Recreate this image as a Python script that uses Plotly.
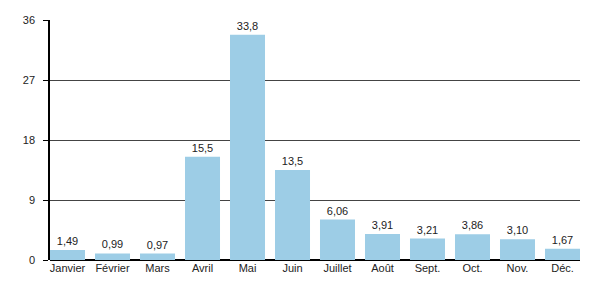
import plotly.graph_objects as go

months = ["Janvier", "Février", "Mars", "Avril", "Mai", "Juin", "Juillet", "Août", "Sept.", "Oct.", "Nov.", "Déc."]
values = [1.49, 0.99, 0.97, 15.5, 33.8, 13.5, 6.06, 3.91, 3.21, 3.86, 3.10, 1.67]
labels = ["1,49", "0,99", "0,97", "15,5", "33,8", "13,5", "6,06", "3,91", "3,21", "3,86", "3,10", "1,67"]
y_ticks = [0, 9, 18, 27, 36]

fig = go.Figure(go.Bar(
    x=list(range(len(months))), y=values, text=labels, textposition="outside",
    textfont=dict(size=11, color="#222"), cliponaxis=False,
    marker=dict(color="#9dcde6", line=dict(width=0)),
))
fig.update_layout(
    width=600, height=300, margin=dict(l=50, r=20, t=20, b=40),
    paper_bgcolor="white", plot_bgcolor="white", bargap=0.222, showlegend=False,
    font=dict(family="Liberation Sans, Arial, sans-serif", size=11, color="#222"),
)
fig.update_xaxes(range=[-0.389, 11.389], tickmode="array", tickvals=list(range(12)), ticktext=months,
                 showgrid=False, showline=False, ticks="", zeroline=False, fixedrange=True)
fig.update_yaxes(range=[0, 36], tickmode="array", tickvals=y_ticks, showgrid=True, gridcolor="#444",
                 gridwidth=1, showline=True, linecolor="black", linewidth=1.5, ticks="outside",
                 ticklen=5, tickcolor="black", zeroline=True, zerolinecolor="black", zerolinewidth=1.5,
                 ticklabelstandoff=6)
fig.write_html("out.html")
